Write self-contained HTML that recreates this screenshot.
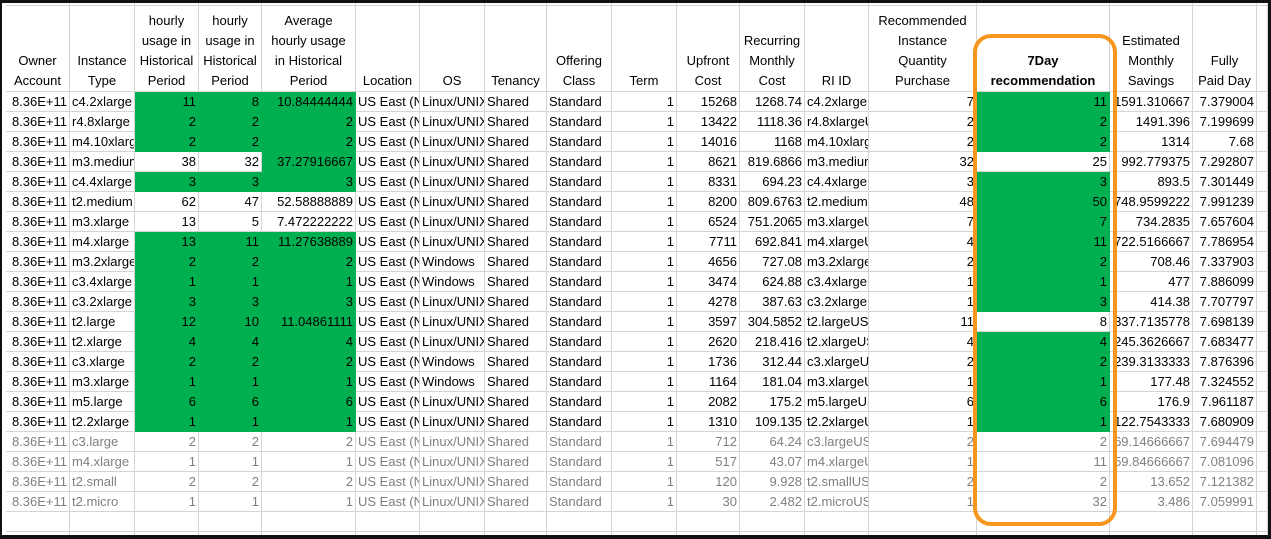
<!DOCTYPE html>
<html><head><meta charset="utf-8">
<style>
html,body{margin:0;padding:0;background:#fff;}
#sheet{position:relative;width:1271px;height:539px;overflow:hidden;background:#fff;font-family:"Liberation Sans",Arial,sans-serif;font-size:13px;color:#000;}
.c{position:absolute;box-sizing:border-box;border-right:1px solid #d4d4d4;border-bottom:1px solid #d4d4d4;overflow:hidden;white-space:nowrap;line-height:20px;display:flex;padding:0 2px;}
.l{justify-content:flex-start;}
.r{justify-content:flex-end;}
.h{justify-content:center;align-items:flex-end;text-align:center;white-space:nowrap;line-height:20px;padding:0 1px;}
.h span{display:block;}
.g{background:#00b050;border-color:#00b050;}
.gr{color:#7f7f7f;}
</style></head>
<body>
<div id="sheet">
<div style="position:absolute;left:0;top:0;width:1271px;height:3px;background:#111;"></div>
<div style="position:absolute;left:0;top:0;width:2px;height:539px;background:#111;"></div>
<div style="position:absolute;right:0;top:0;width:3px;height:539px;background:#111;z-index:6"></div>
<div style="position:absolute;left:0;bottom:0;width:1271px;height:4px;background:#111;z-index:6"></div>
<svg style="position:absolute;left:0;top:0;z-index:5" width="1271" height="539"><rect x="975" y="36" width="140" height="488" rx="16" ry="16" fill="none" stroke="#f7961e" stroke-width="4"/></svg>
</div>
<script>
const colX=[6,70,135,199,262,356,420,485,547,612,677,740,805,869,977,1110,1193,1257,1268];
const headers=["Owner<br>Account","Instance<br>Type","hourly<br>usage in<br>Historical<br>Period","hourly<br>usage in<br>Historical<br>Period","Average<br>hourly usage<br>in Historical<br>Period","Location","OS","Tenancy","Offering<br>Class","Term","Upfront<br>Cost","Recurring<br>Monthly<br>Cost","RI ID","Recommended<br>Instance<br>Quantity<br>Purchase","<b>7Day<br>recommendation</b>","Estimated<br>Monthly<br>Savings","Fully<br>Paid Day",""];
const align=["r","l","r","r","r","l","l","l","l","r","r","r","l","r","r","r","r","l"];
const types=["c4.2xlarge","r4.8xlarge","m4.10xlarge","m3.medium","c4.4xlarge","t2.medium","m3.xlarge","m4.xlarge","m3.2xlarge","c3.4xlarge","c3.2xlarge","t2.large","t2.xlarge","c3.xlarge","m3.xlarge","m5.large","t2.2xlarge","c3.large","m4.xlarge","t2.small","t2.micro"];
const h1=["11","2","2","38","3","62","13","13","2","1","3","12","4","2","1","6","1","2","1","2","1"];
const h2=["8","2","2","32","3","47","5","11","2","1","3","10","4","2","1","6","1","2","1","2","1"];
const avg=["10.84444444","2","2","37.27916667","3","52.58888889","7.472222222","11.27638889","2","1","3","11.04861111","4","2","1","6","1","2","1","2","1"];
const os=["Linux/UNIX","Linux/UNIX","Linux/UNIX","Linux/UNIX","Linux/UNIX","Linux/UNIX","Linux/UNIX","Linux/UNIX","Windows","Windows","Linux/UNIX","Linux/UNIX","Linux/UNIX","Windows","Windows","Linux/UNIX","Linux/UNIX","Linux/UNIX","Linux/UNIX","Linux/UNIX","Linux/UNIX"];
const upfront=["15268","13422","14016","8621","8331","8200","6524","7711","4656","3474","4278","3597","2620","1736","1164","2082","1310","712","517","120","30"];
const recurring=["1268.74","1118.36","1168","819.6866","694.23","809.6763","751.2065","692.841","727.08","624.88","387.63","304.5852","218.416","312.44","181.04","175.2","109.135","64.24","43.07","9.928","2.482"];
const recQty=["7","2","2","32","3","48","7","4","2","1","1","11","4","2","1","6","1","2","1","2","1"];
const day7=["11","2","2","25","3","50","7","11","2","1","3","8","4","2","1","6","1","2","11","2","32"];
const savings=["1591.310667","1491.396","1314","992.779375","893.5","748.9599222","734.2835","722.5166667","708.46","477","414.38","337.7135778","245.3626667","239.3133333","177.48","176.9","122.7543333","69.14666667","59.84666667","13.652","3.486"];
const paid=["7.379004","7.199699","7.68","7.292807","7.301449","7.991239","7.657604","7.786954","7.337903","7.886099","7.707797","7.698139","7.683477","7.876396","7.324552","7.961187","7.680909","7.694479","7.081096","7.121382","7.059991"];
const greenUsage=[1,1,1,0,1,0,0,1,1,1,1,1,1,1,1,1,1,0,0,0,0];
const greenAvg=[1,1,1,1,1,0,0,1,1,1,1,1,1,1,1,1,1,0,0,0,0];
const green7=[1,1,1,0,1,1,1,1,1,1,1,0,1,1,1,1,1,0,0,0,0];
const sheet=document.getElementById('sheet');
const colNames=["owner-account","instance-type","hourly-usage-a","hourly-usage-b","avg-hourly-usage","location","os","tenancy","offering-class","term","upfront-cost","recurring-cost","ri-id","recommended-qty","7day-recommendation","estimated-savings","fully-paid-day","extra"];
function cell(ci,top,h,html,cls,name){
  const d=document.createElement('div');
  d.className='c '+cls;
  d.style.left=colX[ci]+'px';d.style.top=top+'px';
  d.style.width=(colX[ci+1]-colX[ci])+'px';d.style.height=h+'px';
  d.innerHTML=html;
  
  
  sheet.appendChild(d);
}
for(let i=0;i<18;i++){
  const d=document.createElement('div');d.className='c';d.style.left=colX[i]+'px';d.style.top='3px';d.style.width=(colX[i+1]-colX[i])+'px';d.style.height='3px';
  
  
  sheet.appendChild(d);
}
for(let i=0;i<18;i++){cell(i,6,86,'<span>'+headers[i]+'</span>','h','header-'+colNames[i]);}
for(let r=0;r<21;r++){
  const top=92+r*20;
  const vals=["8.36E+11",types[r],h1[r],h2[r],avg[r],"US East (N. Virginia)",os[r],"Shared","Standard","1",upfront[r],recurring[r],types[r]+"US East (N. Virginia)",recQty[r],day7[r],savings[r],paid[r],""];
  for(let i=0;i<18;i++){
    let cls=align[i];
    if((i==2||i==3)&&greenUsage[r])cls+=' g';
    if(i==4&&greenAvg[r])cls+=' g';
    if(i==14&&green7[r])cls+=' g';
    if(r>=17)cls+=' gr';
    cell(i,top,20,'<span>'+vals[i]+'</span>',cls,colNames[i]+'-row-'+(r+1));
  }
}
for(let i=0;i<18;i++){cell(i,512,20,'','l','empty-row-cell');}
for(let i=0;i<18;i++){cell(i,532,20,'','l','empty-row-cell');}
</script>
</body></html>
